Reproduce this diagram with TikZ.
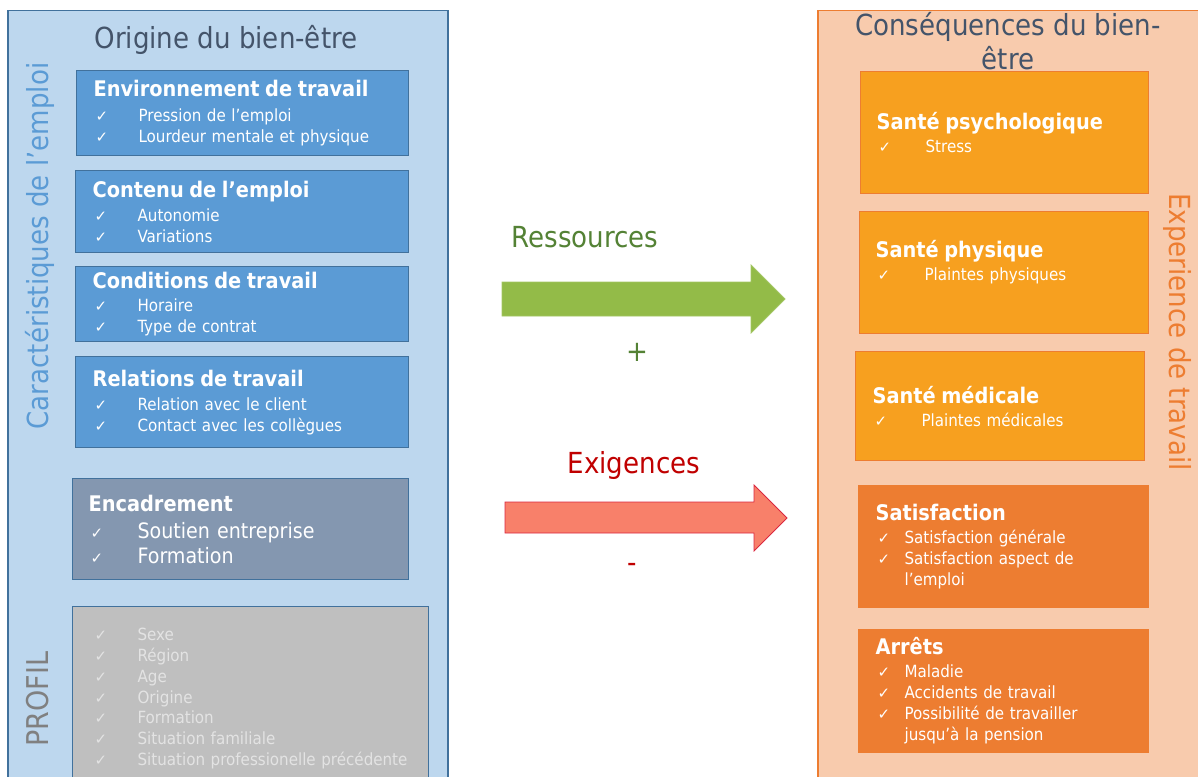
\documentclass[tikz,border=0pt]{standalone}
\usepackage{fontspec}
\setmainfont{DejaVu Sans Condensed}
\newfontfamily\chkfont{DejaVu Sans}
\usetikzlibrary{positioning}

\definecolor{titlegray}{HTML}{44546A}
\definecolor{panelblue}{HTML}{BDD7EE}
\definecolor{lineblue}{HTML}{41719C}
\definecolor{boxblue}{HTML}{5B9BD5}
\definecolor{slateblue}{HTML}{8497B0}
\definecolor{profilgray}{HTML}{BFBFBF}
\definecolor{profiltext}{HTML}{E3E3E3}
\definecolor{panelorange}{HTML}{F8CBAD}
\definecolor{lineorange}{HTML}{ED7D31}
\definecolor{boxamber}{HTML}{F7A01F}
\definecolor{resgreen}{HTML}{548235}
\definecolor{arrowgreen}{HTML}{93BB48}
\definecolor{exired}{HTML}{C00000}
\definecolor{arrowsalmon}{HTML}{F8806A}
\definecolor{arrowred}{HTML}{DA2840}

% one ticked line of a list, then a wrapped continuation line
\newcommand\chk[2][45pt]{\makebox[#1][l]{\kern2pt{\chkfont\fontsize{15}{15}\selectfont ✓}}#2}
\newcommand\cont[2][29pt]{\makebox[#1]{}#2}
\newcommand\cardtitle[1]{\textbf{\fontsize{21.5}{21}\selectfont #1}}

\tikzset{
  panel/.style={anchor=north west,line width=1.5pt,inner sep=0pt},
  card/.style={anchor=north west,line width=1.2pt,align=left,text=white,inner ysep=0pt,
    font=\fontsize{16.8}{21}\selectfont},
  bluecard/.style={card,fill=boxblue,draw=lineblue},
  ambercard/.style={card,fill=boxamber,draw=lineorange},
  orangecard/.style={card,fill=lineorange,draw=lineorange},
  bigtext/.style={font=\fontsize{29}{34}\selectfont},
}

\begin{document}
\begin{tikzpicture}[x=1pt,y=-1pt]
\clip (0,0) rectangle (1198,776);

% left side
\node[panel,draw=lineblue,fill=panelblue,minimum width=440pt,minimum height=800pt] (origine) at (7,10) {};
\node[bigtext,text=titlegray] (origtitle) at (226,40) {Origine du bien-être};
\node[bigtext,text=boxblue,rotate=90] (caract) at (40,246) {Caractéristiques de l’emploi};
\node[bigtext,text=gray,rotate=90,font=\fontsize{30}{34}\selectfont] (profil) at (38,699) {PROFIL};

\node[bluecard,inner xsep=17pt,text width=298pt,minimum height=85pt] (envir) at (76,70)
  {\cardtitle{Environnement de travail}\\[4pt]
   \chk{Pression de l’emploi}\\
   \chk{Lourdeur mentale et physique}};
\node[bluecard,inner xsep=17pt,text width=299pt,minimum height=82pt] (contenu) at (75,170)
  {\cardtitle{Contenu de l’emploi}\\[3pt]
   \chk{Autonomie}\\
   \chk{Variations}};
\node[bluecard,inner xsep=17pt,text width=299pt,minimum height=75pt] (conditions) at (75,266)
  {\cardtitle{Conditions de travail}\\[2pt]
   \chk{Horaire}\\
   \chk{Type de contrat}};
\node[bluecard,inner xsep=17pt,text width=299pt,minimum height=91pt] (relations) at (75,356)
  {\cardtitle{Relations de travail}\\[3pt]
   \chk{Relation avec le client}\\
   \chk{Contact avec les collègues}};
\node[card,fill=slateblue,draw=lineblue,inner xsep=16pt,text width=304pt,minimum height=101pt,
  font=\fontsize{21.2}{25}\selectfont] (encadrement) at (72,478)
  {\textbf{\fontsize{21.5}{25}\selectfont Encadrement}\\[2pt]
   \chk[49pt]{Soutien entreprise}\\
   \chk[49pt]{Formation}};
\node[card,fill=profilgray,draw=lineblue,text=profiltext,inner xsep=20pt,text width=316pt,
  minimum height=184pt,font=\fontsize{16.8}{20.7}\selectfont] (profilbox) at (72,606)
  {\chk{Sexe}\\
   \chk{Région}\\
   \chk{Age}\\
   \chk{Origine}\\
   \chk{Formation}\\
   \chk{Situation familiale}\\
   \chk{Situation professionelle précédente}};

% arrows in between
\draw[draw=arrowgreen!85!white,fill=arrowgreen,line width=0.8pt]
  (502,282) -- (751,282) -- (751,265) -- (785,299) -- (751,333) -- (751,316) -- (502,316) -- cycle;
\draw[draw=arrowred,fill=arrowsalmon,line width=0.8pt]
  (505,502) -- (754,502) -- (754,485) -- (787,518) -- (754,551) -- (754,533) -- (505,533) -- cycle;
\node[bigtext,text=resgreen] (ressources) at (585,237) {Ressources};
\node[bigtext,text=resgreen] (plus) at (637,352) {+};
\node[bigtext,text=exired] (exigences) at (634,465) {Exigences};
\node[bigtext,text=exired] (moins) at (632,568) {-};

% right side
\node[panel,draw=lineorange,fill=panelorange,minimum width=400pt,minimum height=800pt] (consequences) at (817,10) {};
\node[bigtext,text=titlegray,align=center] (constitle) at (1008,41) {Conséquences du bien-\\être};
\node[bigtext,text=lineorange,rotate=-90] (experience) at (1177,332) {Experience de travail};

\node[ambercard,inner xsep=16pt,text width=256pt,minimum height=122pt] (psycho) at (860,71)
  {\cardtitle{Santé psychologique}\\[2pt]
   \chk[49pt]{Stress}};
\node[ambercard,inner xsep=16pt,text width=257pt,minimum height=122pt] (physique) at (859,211)
  {\cardtitle{Santé physique}\\[2pt]
   \chk[49pt]{Plaintes physiques}\\[4pt]
   \mbox{}};
\node[ambercard,inner xsep=17pt,text width=255pt,minimum height=109pt] (medicale) at (855,351)
  {\cardtitle{Santé médicale}\\[2pt]
   \chk[49pt]{Plaintes médicales}};
\node[orangecard,inner xsep=17pt,text width=256pt,minimum height=122pt] (satisfaction) at (858,485)
  {\cardtitle{Satisfaction}\\[2pt]
   \chk[29pt]{Satisfaction générale}\\
   \chk[29pt]{Satisfaction aspect de}\\
   \cont{l’emploi}};
\node[orangecard,inner xsep=17pt,text width=256pt,minimum height=123pt] (arrets) at (858,629)
  {\cardtitle{Arrêts}\\[2pt]
   \chk[29pt]{Maladie}\\
   \chk[29pt]{Accidents de travail}\\
   \chk[29pt]{Possibilité de travailler}\\
   \cont{jusqu’à la pension}};
\end{tikzpicture}
\end{document}
